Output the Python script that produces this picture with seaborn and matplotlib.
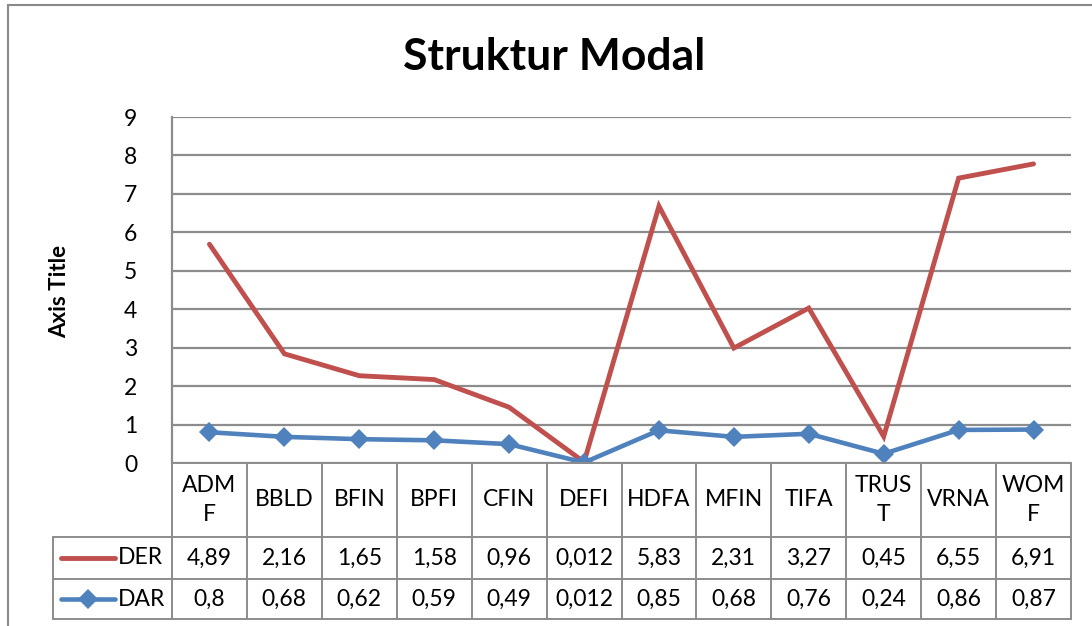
import numpy as np
import pandas as pd
import matplotlib
matplotlib.use("Agg")
import matplotlib.pyplot as plt
import matplotlib.transforms as mtransforms
from matplotlib.lines import Line2D
from matplotlib.patches import Rectangle
import seaborn as sns

# ---- data ----
categories = ["ADMF", "BBLD", "BFIN", "BPFI", "CFIN", "DEFI",
              "HDFA", "MFIN", "TIFA", "TRUST", "VRNA", "WOMF"]
header_labels = ["ADM\nF", "BBLD", "BFIN", "BPFI", "CFIN", "DEFI",
                 "HDFA", "MFIN", "TIFA", "TRUS\nT", "VRNA", "WOM\nF"]
der = [4.89, 2.16, 1.65, 1.58, 0.96, 0.012, 5.83, 2.31, 3.27, 0.45, 6.55, 6.91]
dar = [0.8, 0.68, 0.62, 0.59, 0.49, 0.012, 0.85, 0.68, 0.76, 0.24, 0.86, 0.87]
der_text = ["4,89", "2,16", "1,65", "1,58", "0,96", "0,012", "5,83", "2,31", "3,27", "0,45", "6,55", "6,91"]
dar_text = ["0,8", "0,68", "0,62", "0,59", "0,49", "0,012", "0,85", "0,68", "0,76", "0,24", "0,86", "0,87"]
yticks = [0, 1, 2, 3, 4, 5, 6, 7, 8, 9]
title = "Struktur Modal"
ytitle = "Axis Title"

RED = "#C0504D"
BLUE = "#4F81BD"
GRID = "#8C8C8C"

sns.set_style("white")
plt.rcParams["font.family"] = ["Lato", "DejaVu Sans"]
plt.rcParams["text.color"] = "black"

W, H = 1092, 626
fig = plt.figure(figsize=(W / 100, H / 100), dpi=100)

def fx(px):
    return px / W

def fy(py):
    return 1 - py / H

L, R, T, B = 172, 1071, 117, 463
ax = fig.add_axes([fx(L), fy(B), fx(R) - fx(L), fy(T) - fy(B)])

pos = np.arange(len(categories))
# stacked line chart: DER drawn on top of DAR
df = pd.DataFrame({"pos": pos, "DAR": dar, "DER": np.array(der) + np.array(dar)})

sns.lineplot(data=df, x="pos", y="DER", ax=ax, color=RED, linewidth=3.5,
             solid_capstyle="round", solid_joinstyle="miter", sort=False, zorder=3)
sns.lineplot(data=df, x="pos", y="DAR", ax=ax, color=BLUE, linewidth=3.3,
             marker="D", markersize=10.5, markeredgewidth=0, sort=False, zorder=4)

ax.set_xlim(-0.5, len(categories) - 0.5)
ax.set_ylim(0, 9)
ax.set_yticks(yticks)
ax.set_yticklabels([str(t) for t in yticks], fontsize=16.5, color="black")
ax.tick_params(axis="y", length=0, pad=25)
ax.set_xticks([])
ax.set_xlabel("")
ax.set_ylabel("")
ax.grid(axis="y", color=GRID, linewidth=1.6)
ax.set_axisbelow(True)
for s in ["top", "right", "bottom"]:
    ax.spines[s].set_visible(False)
ax.spines["left"].set_color(GRID)
ax.spines["left"].set_linewidth(1.6)

# title and axis title
fig.text(fx(554), fy(57), title, fontsize=32, fontweight="bold",
         ha="center", va="center", color="black")
fig.text(fx(60), fy(291), ytitle, fontsize=16, fontweight="bold",
         rotation=90, ha="center", va="center", color="black")

# ---- data table ----
tr = mtransforms.blended_transform_factory(ax.transData, fig.transFigure)
rows_y = [463, 537, 579, 619]
lw = 1.4
tc = GRID
for i in range(len(categories) + 1):
    x = i - 0.5
    fig.add_artist(Line2D([x, x], [fy(rows_y[0]), fy(rows_y[3])], transform=tr,
                          color=tc, linewidth=lw))
fig.add_artist(Line2D([-0.5, len(categories) - 0.5], [fy(463), fy(463)], transform=tr,
                      color=tc, linewidth=lw))
for yy in rows_y[1:]:
    fig.add_artist(Line2D([fx(53), fx(R)], [fy(yy), fy(yy)], transform=fig.transFigure,
                          color=tc, linewidth=lw))
fig.add_artist(Line2D([fx(53), fx(53)], [fy(537), fy(619)], transform=fig.transFigure,
                      color=tc, linewidth=lw))

FS = 16.5
for i, lab in enumerate(header_labels):
    fig.text(i, fy(500), lab, transform=tr, fontsize=FS, ha="center", va="center",
             linespacing=1.5, color="black")
for i, (a, b) in enumerate(zip(der_text, dar_text)):
    fig.text(i, fy(558), a, transform=tr, fontsize=FS, ha="center", va="center", color="black")
    fig.text(i, fy(599), b, transform=tr, fontsize=FS, ha="center", va="center", color="black")

# legend keys in table
fig.add_artist(Line2D([fx(61), fx(115)], [fy(558), fy(558)], transform=fig.transFigure,
                      color=RED, linewidth=3.5, solid_capstyle="round"))
fig.add_artist(Line2D([fx(61), fx(115)], [fy(599), fy(599)], transform=fig.transFigure,
                      color=BLUE, linewidth=3.3, solid_capstyle="round"))
fig.add_artist(Line2D([fx(88)], [fy(599)], transform=fig.transFigure, color=BLUE,
                      marker="D", markersize=10.5, markeredgewidth=0, linestyle="none"))
fig.text(fx(118), fy(558), "DER", fontsize=FS, ha="left", va="center", color="black")
fig.text(fx(118), fy(599), "DAR", fontsize=FS, ha="left", va="center", color="black")

# outer chart border
fig.add_artist(Rectangle((fx(8), -0.1), 1.2, fy(5) + 0.1, transform=fig.transFigure,
                         fill=False, edgecolor="#8A8A8A", linewidth=1.5))

fig.savefig("out.png", dpi=100)
